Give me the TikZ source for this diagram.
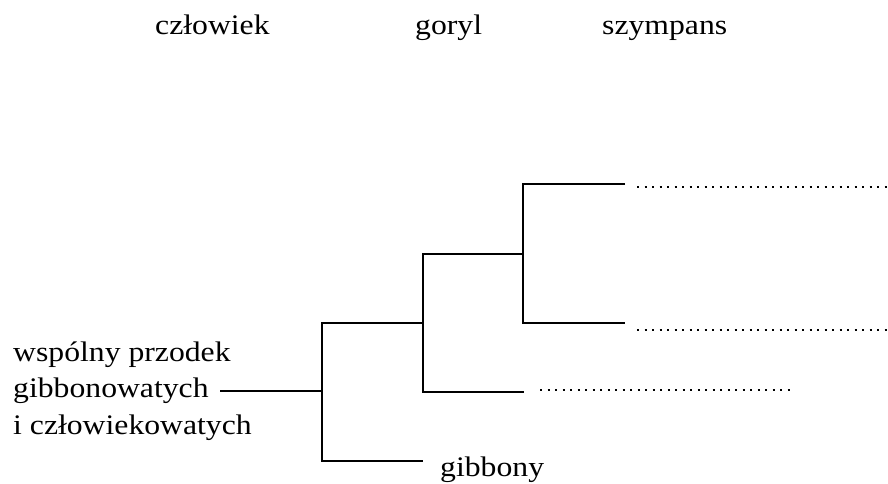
\documentclass[tikz,border=0pt]{standalone}
\usepackage{fontspec}
\setmainfont{Liberation Serif}
\newfontfamily\widefont[FakeStretch=1.12]{Liberation Serif}
\usepackage{tikz}

\tikzset{
    branch/.style={line width=1.8pt},
    blank/.style={line width=2.2pt, dash pattern=on 2.2pt off 5.3pt},
    taxon/.style={inner sep=0pt, anchor=base west,
                  font=\widefont\fontsize{28.3}{34}\selectfont}
}

\begin{document}
\begin{tikzpicture}[x=1pt, y=-1pt]
        \useasboundingbox (0,0) rectangle (888,483);

        % names on top
        \node[taxon] (human) at (155,34) {człowiek};
        \node[taxon] (gorilla) at (415,34) {goryl};
        \node[taxon] (chimp) at (602,34) {szympans};

        % ancestor
        \node[inner sep=0pt, anchor=west, align=left,
              font=\widefont\fontsize{28.3}{36.5}\selectfont] (ancestor) at (13,391)
              {wspólny przodek\\gibbonowatych\\i człowiekowatych};

        \coordinate (anc) at (220,391);
        \coordinate (root) at (322,391);
        \coordinate (n1) at (423,323);
        \coordinate (n2) at (523,254);
        \coordinate (t1) at (625,184);
        \coordinate (t2) at (625,323);
        \coordinate (t3) at (524,392);
        \coordinate (gib) at (423,461);

        \draw[branch] (anc) -- (root);
        \draw[branch] (n1) -| (root) |- (gib);
        \draw[branch] (n2) -| (n1) |- (t3);
        \draw[branch] (t1) -| (n2) |- (t2);

        \node[taxon] (gibbons) at (440,476) {gibbony};

        % blanks to fill in
        \coordinate (b1s) at (637,187);
        \coordinate (b1e) at (888,187);
        \coordinate (b2s) at (637,330);
        \coordinate (b2e) at (888,330);
        \coordinate (b3s) at (540,390);
        \coordinate (b3e) at (792,390);
        \draw[blank] (b1s) -- (b1e);
        \draw[blank] (b2s) -- (b2e);
        \draw[blank] (b3s) -- (b3e);

    \end{tikzpicture}
\end{document}
